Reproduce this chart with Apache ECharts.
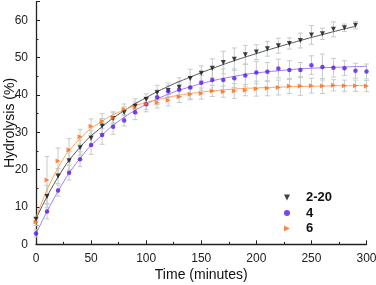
<!DOCTYPE html>
<html>
<head>
<meta charset="utf-8">
<script src="https://cdn.jsdelivr.net/npm/echarts@6/dist/echarts.min.js"></script>
<style>html,body{margin:0;padding:0;background:#fff}#c{width:376px;height:285px}</style>
</head>
<body>
<div id="c"></div>
<script>
// ---- data ----
var timesBlack = [0,10,20,30,40,50,60,70,80,90,100,110,120,130,140,150,160,170,180,190,200,210,220,230,240,250,260,270,280,290];
var times = [0,10,20,30,40,50,60,70,80,90,100,110,120,130,140,150,160,170,180,190,200,210,220,230,240,250,260,270,280,290,300];
var black = [6.7,12.8,18.3,22.4,25.9,28.4,31.7,33.7,35.3,37.0,38.8,40.6,41.2,42.1,44.4,45.8,47.2,48.7,49.6,50.8,51.5,52.4,53.2,53.8,54.6,56.1,56.4,57.6,58.0,58.7];
var blackErr = [0.5,3.0,2.0,2.5,2.0,2.0,2.0,1.5,1.5,2.0,1.5,2.0,2.0,2.5,2.5,2.0,2.5,3.0,3.0,2.5,2.0,2.0,2.0,1.5,2.0,2.5,1.5,2.0,1.0,1.0];
var purple = [2.9,8.8,14.4,19.2,22.8,26.6,29.3,31.5,33.2,35.4,37.5,39.4,41.0,41.5,42.0,43.3,44.0,44.0,44.5,45.2,46.0,46.2,47.1,46.7,46.7,48.0,47.5,47.3,47.2,46.5,46.3];
var purpleErr = [1.0,2.0,1.5,2.0,2.0,2.5,2.5,2.0,1.5,2.0,2.0,2.0,1.5,2.0,3.0,2.0,3.0,3.0,2.5,3.0,3.0,2.5,2.5,2.5,2.0,2.5,3.5,2.5,2.0,2.0,2.0];
var orange = [6.0,17.2,22.3,25.3,28.8,31.6,33.0,34.0,36.1,36.6,37.6,38.0,38.6,39.5,40.2,40.4,41.1,40.9,41.1,41.3,41.7,41.8,42.0,42.4,42.4,42.5,42.4,42.6,42.5,42.5,42.4];
var orangeErr = [1.0,6.3,3.5,3.0,2.0,2.0,2.0,1.5,1.5,1.5,1.5,1.5,1.5,1.5,1.5,1.5,1.5,1.5,2.0,1.5,2.0,2.0,2.0,2.0,2.5,2.0,2.0,1.5,1.5,1.5,1.5];
// fitted curves
var fitTBlack = [0,20,40,60,80,100,120,140,160,180,200,220,240,260,280,290];
var fitBlack = [6.8,18.0,26.0,31.5,35.8,39.3,42.3,44.8,47.1,49.2,51.1,52.9,54.6,56.2,57.7,58.4];
var fitT = [0,20,40,60,80,100,120,140,160,180,200,220,240,260,280,300];
var fitPurple = [2.8,14.2,23.0,29.3,34.0,37.5,40.2,42.2,43.8,45.0,45.9,46.5,47.0,47.3,47.5,47.7];
var fitOrange = [7.1,20.5,28.3,33.0,36.0,38.0,39.4,40.4,41.1,41.6,41.9,42.1,42.3,42.4,42.5,42.5];
var seriesNames = ['2-20','4','6'];
var xTicks = {min:0, max:300, interval:50};
var yTicks = {min:0, max:65, interval:10};

function pairs(xs, ys){ return xs.map(function(x,i){ return [x, ys[i]]; }); }
function triples(xs, ys, es){ return xs.map(function(x,i){ return [x, ys[i], es[i]]; }); }

function errRender(params, api){
  var x = api.value(0), y = api.value(1), e = api.value(2);
  var top = api.coord([x, y + e]);
  var bot = api.coord([x, y - e]);
  var w = 2.5;
  var st = {stroke:'#c3cccc', lineWidth:1};
  return {type:'group', children:[
    {type:'line', shape:{x1:top[0], y1:top[1], x2:bot[0], y2:bot[1]}, style:st},
    {type:'line', shape:{x1:top[0]-w, y1:top[1], x2:top[0]+w, y2:top[1]}, style:st},
    {type:'line', shape:{x1:bot[0]-w, y1:bot[1], x2:bot[0]+w, y2:bot[1]}, style:st}
  ]};
}

var downTri = 'path://M0,0L10,0L5,10Z';
var rightTri = 'path://M0,0L10,5L0,10Z';

var chart = echarts.init(document.getElementById('c'), null, {renderer:'canvas'});
var fam = 'Liberation Sans, Arial, sans-serif';
var axisFont = {fontFamily:fam, fontSize:12, color:'#222'};
chart.setOption({
  animation:false,
  backgroundColor:'#fff',
  grid:{left:36, right:9.5, top:1.7, bottom:40.7, containLabel:false, outerBoundsMode:'none'},
  legend:{
    orient:'vertical', left:279, top:186, itemGap:2.5, itemWidth:6, itemHeight:6,
    data:[{name:seriesNames[0], icon:downTri},{name:seriesNames[1], icon:'circle'},{name:seriesNames[2], icon:rightTri}],
    textStyle:{fontFamily:fam, fontSize:13, fontWeight:'bold', color:'#111', padding:[0,0,0,11]}
  },
  xAxis:{
    type:'value', min:xTicks.min, max:xTicks.max, interval:xTicks.interval,
    name:'Time (minutes)', nameLocation:'middle', nameGap:24, nameMoveOverlap:false,
    nameTextStyle:{fontFamily:fam, fontSize:14, color:'#111', verticalAlign:'top'},
    axisLine:{show:true, onZero:false, lineStyle:{color:'#222', width:1.3}},
    axisTick:{show:true, inside:true, length:4, lineStyle:{color:'#222'}},
    minorTick:{show:true, splitNumber:2, length:2.5, lineStyle:{color:'#222'}},
    axisLabel:Object.assign({margin:8}, axisFont),
    splitLine:{show:false}
  },
  yAxis:{
    type:'value', min:yTicks.min, max:yTicks.max, interval:yTicks.interval,
    name:'Hydrolysis (%)', nameLocation:'middle', nameGap:26, nameMoveOverlap:false,
    nameTextStyle:{fontFamily:fam, fontSize:14, color:'#111', verticalAlign:'middle'},
    axisLine:{show:true, onZero:false, lineStyle:{color:'#222', width:1.3}},
    axisTick:{show:true, inside:true, length:4, lineStyle:{color:'#222'}},
    minorTick:{show:true, splitNumber:2, length:2.5, lineStyle:{color:'#222'}},
    axisLabel:Object.assign({margin:8, showMaxLabel:false, formatter:function(v){ return v>60?'':v; }}, axisFont),
    splitLine:{show:false}
  },
  series:[
    {type:'custom', renderItem:errRender, data:triples(timesBlack, black, blackErr), z:1, silent:true},
    {type:'custom', renderItem:errRender, data:triples(times, purple, purpleErr), z:1, silent:true},
    {type:'custom', renderItem:errRender, data:triples(times, orange, orangeErr), z:1, silent:true},
    {type:'line', data:pairs(fitTBlack, fitBlack), smooth:true, showSymbol:false, lineStyle:{color:'#555', width:1}, z:2, silent:true},
    {type:'line', data:pairs(fitT, fitPurple), smooth:true, showSymbol:false, lineStyle:{color:'#9a82f2', width:1}, z:2, silent:true},
    {type:'line', data:pairs(fitT, fitOrange), smooth:true, showSymbol:false, lineStyle:{color:'#ffa466', width:1}, z:2, silent:true},
    {name:seriesNames[0], type:'scatter', data:pairs(timesBlack, black), symbol:downTri, symbolSize:5, itemStyle:{color:'#111'}, z:3},
    {name:seriesNames[1], type:'scatter', data:pairs(times, purple), symbol:'circle', symbolSize:4.5, itemStyle:{color:'#5b16e6'}, z:3},
    {name:seriesNames[2], type:'scatter', data:pairs(times, orange), symbol:rightTri, symbolSize:5, itemStyle:{color:'#ff6a12'}, z:3}
  ]
});
</script>
</body>
</html>
